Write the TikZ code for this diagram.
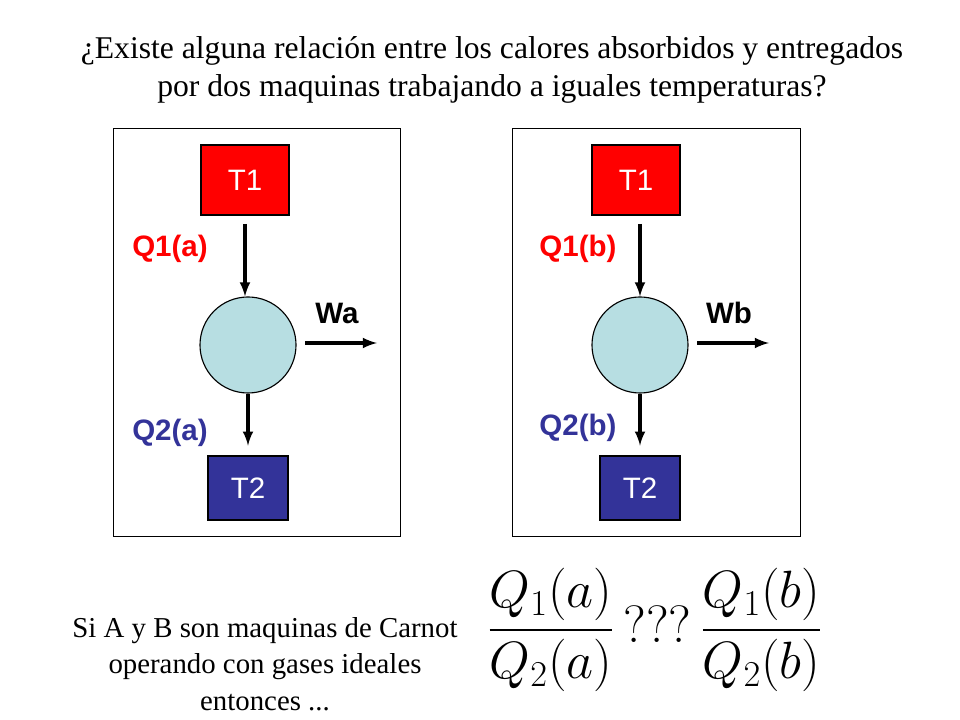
\documentclass[tikz,border=0pt]{standalone}
\usepackage{fontspec}
\setmainfont{Liberation Serif}
\setsansfont{Liberation Sans}
\usepackage{amsmath}
\usetikzlibrary{arrows}
\definecolor{hotred}{RGB}{255,0,0}
\definecolor{coldblue}{RGB}{51,51,153}
\definecolor{engine}{RGB}{183,222,226}

\begin{document}
\begin{tikzpicture}[>=latex,x=0.025cm,y=-0.025cm,
  reservoir/.style={draw,thick,minimum width=2.2cm,minimum height=1.75cm,
    text=white,font=\sffamily\fontsize{21}{24}\selectfont},
  heat/.style={font=\sffamily\bfseries\fontsize{21}{24}\selectfont},
  flow/.style={-latex,line width=2.4pt}]
\useasboundingbox (0,0) rectangle (960,720);

\node (title) at (492,70) [align=center,font=\fontsize{22.5}{27}\selectfont]
  {¿Existe alguna relación entre los calores absorbidos y entregados\\
   por dos maquinas trabajando a iguales temperaturas?};

% engine a
\draw[thin] (113,128) rectangle (400,536);
\node (T1a) at (245,180) [reservoir,fill=hotred] {T1};
\node (Ma) at (248,345) [circle,draw,thick,fill=engine,minimum size=2.4cm] {};
\node (T2a) at (248,488) [reservoir,fill=coldblue,minimum width=2cm,minimum height=1.6cm] {T2};
\coordinate (q1a) at (245,224);
\draw[flow] (q1a) -- (q1a |- Ma.north);
\draw[flow] (Ma.south) -- ++(0,52);
\coordinate (wa) at (305,343);
\draw[flow] (wa) -- ++(72,0);
\node (Q1a) at (170,249) [heat,text=hotred] {Q1(a)};
\node (Q2a) at (170,433) [heat,text=coldblue] {Q2(a)};
\node (Wa) at (337,313) [heat] {Wa};

% engine b
\draw[thin] (512,128) rectangle (800,536);
\node (T1b) at (636,180) [reservoir,fill=hotred] {T1};
\node (Mb) at (640,345) [circle,draw,thick,fill=engine,minimum size=2.4cm] {};
\node (T2b) at (640,488) [reservoir,fill=coldblue,minimum width=2cm,minimum height=1.6cm] {T2};
\coordinate (q1b) at (640,224);
\draw[flow] (q1b) -- (q1b |- Mb.north);
\draw[flow] (Mb.south) -- ++(0,52);
\coordinate (wb) at (697,343);
\draw[flow] (wb) -- ++(72,0);
\node (Q1b) at (578,249) [heat,text=hotred] {Q1(b)};
\node (Q2b) at (578,428) [heat,text=coldblue] {Q2(b)};
\node (Wb) at (729,313) [heat] {Wb};

% bottom
\node (carnot) at (265,664) [align=center,font=\fontsize{20.5}{26}\selectfont]
  {Si A y B son maquinas de Carnot\\operando con gases ideales\\entonces ...};
\node (ratio) at (655,630) [scale=1.5,font=\fontsize{24}{30}\selectfont]
  {$\dfrac{Q_1(a)}{Q_2(a)}\,???\,\dfrac{Q_1(b)}{Q_2(b)}$};
\end{tikzpicture}
\end{document}
